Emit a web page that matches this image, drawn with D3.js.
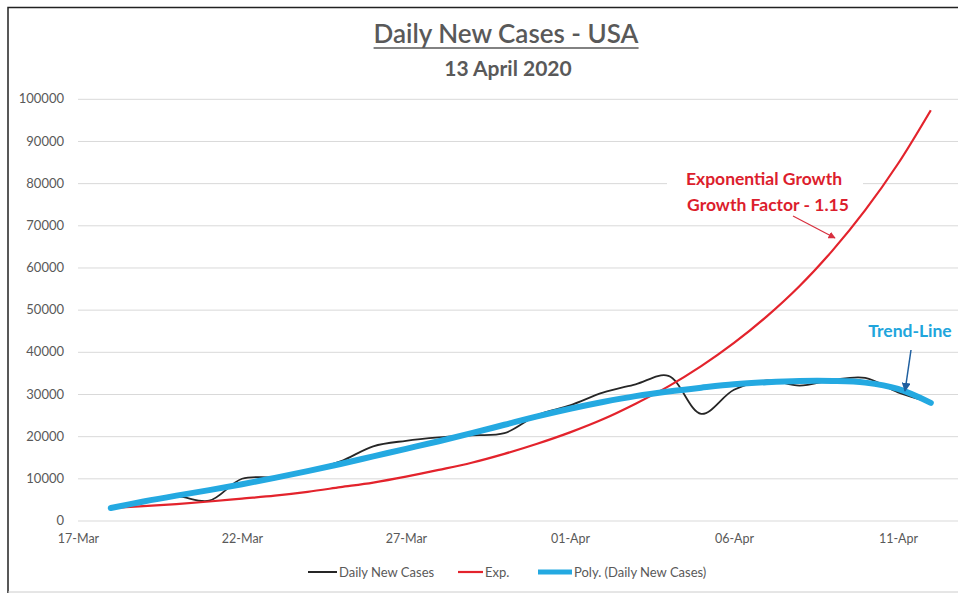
<!DOCTYPE html>
<html>
<head>
<meta charset="utf-8">
<script src="https://cdn.jsdelivr.net/npm/d3@7"></script>
<style>
  body { margin: 0; background: #fff; }
  text { font-family: Lato, "Open Sans", sans-serif; }
  .axis text { fill: #595959; }
  .y-axis text { font-size: 13px; }
  .x-axis text { font-size: 12.5px; }
  .axis .domain { display: none; }
  .y-axis line { stroke: #d9d9d9; }
</style>
</head>
<body>
<div class="chart"></div>
<script>

var dayLabels = [
  "2020-03-18", "2020-03-19", "2020-03-20", "2020-03-21", "2020-03-22", "2020-03-23",
  "2020-03-24", "2020-03-25", "2020-03-26", "2020-03-27", "2020-03-28", "2020-03-29",
  "2020-03-30", "2020-03-31", "2020-04-01", "2020-04-02", "2020-04-03", "2020-04-04",
  "2020-04-05", "2020-04-06", "2020-04-07", "2020-04-08", "2020-04-09", "2020-04-10",
  "2020-04-11", "2020-04-12"
];

var dailyCases = [2950, 4600, 5700, 4700, 9900, 10300, 11800, 14000, 17600, 18900, 19700, 20200,
  20700, 25000, 27300, 30300, 32300, 34300, 25300, 31000, 33200, 32000, 33300, 33800, 30400, 28000];

var expGrowth = [2950, 3400, 3900, 4500, 5200, 5900, 6800, 7900, 9000, 10400, 12000, 13700,
  15800, 18200, 20900, 24000, 27700, 31800, 36600, 42100, 48400, 55600, 64000, 73600, 84600, 97300];

var polyTrend = [2950, 4500, 5900, 7200, 8600, 10100, 11700, 13400, 15200, 17000, 18800, 20700,
  22700, 24700, 26500, 28100, 29500, 30600, 31500, 32300, 32800, 33100, 33100, 32700, 31200, 27900];

var tickDates = ["2020-03-17", "2020-03-22", "2020-03-27", "2020-04-01", "2020-04-06", "2020-04-11"];
var yTicks = [0, 10000, 20000, 30000, 40000, 50000, 60000, 70000, 80000, 90000, 100000];

var svgWidth = 958;
var svgHeight = 596;

var parseDay = d3.timeParse("%Y-%m-%d");

var svg = d3
  .select(".chart")
  .append("svg")
  .attr("width", svgWidth)
  .attr("height", svgHeight);

// frame
svg.append("path").attr("d", "M8,593V7.5H958").attr("fill", "none").attr("stroke", "#222").attr("stroke-width", 1.5);
svg.append("line").attr("x1", 8).attr("x2", 958).attr("y1", 592).attr("y2", 592).attr("stroke", "#ccc");

var xScale = d3.scaleTime()
  .domain([parseDay("2020-03-17"), parseDay("2020-04-13")])
  .range([78, 78 + 27 * 32.8]);

var yScale = d3.scaleLinear().domain([0, 100000]).range([520.5, 98.8]);

var leftAxis = d3.axisLeft(yScale)
  .tickValues(yTicks)
  .tickFormat(d3.format("d"))
  .tickSize(-(svgWidth - 78))
  .tickPadding(14);

svg.append("g")
  .attr("class", "axis y-axis")
  .attr("transform", "translate(78,0)")
  .call(leftAxis);

var bottomAxis = d3.axisBottom(xScale)
  .tickValues(tickDates.map(parseDay))
  .tickFormat(d3.timeFormat("%d-%b"))
  .tickSize(0)
  .tickPadding(14);

svg.append("g")
  .attr("class", "axis x-axis")
  .attr("transform", "translate(0,520.5)")
  .call(bottomAxis);

// title
var title = svg.append("text")
  .attr("x", 506)
  .attr("y", 43)
  .attr("text-anchor", "middle")
  .attr("fill", "#595959")
  .style("font-size", "26px")
  .style("font-weight", "600")
  .text("Daily New Cases - USA");

var tb = title.node().getBBox();
svg.append("line")
  .attr("x1", tb.x).attr("x2", tb.x + tb.width)
  .attr("y1", 48).attr("y2", 48)
  .attr("stroke", "#595959").attr("stroke-width", 1.5);

svg.append("text")
  .attr("x", 508)
  .attr("y", 76)
  .attr("text-anchor", "middle")
  .attr("fill", "#595959")
  .style("font-size", "21px")
  .style("font-weight", "bold")
  .text("13 April 2020");

// annotation box behind the lines
svg.append("rect")
  .attr("x", 667).attr("y", 163).attr("width", 196).attr("height", 56)
  .attr("fill", "#fff");

function toPoints(values) {
  return values.map(function(v, i) {
    return { date: parseDay(dayLabels[i]), value: v };
  });
}

var line = d3.line()
  .x(function(d) { return xScale(d.date); })
  .y(function(d) { return yScale(d.value); })
  .curve(d3.curveCatmullRom);

svg.append("path")
  .datum(toPoints(dailyCases))
  .attr("d", line)
  .attr("fill", "none")
  .attr("stroke", "#262626")
  .attr("stroke-width", 1.8);

svg.append("path")
  .datum(toPoints(expGrowth))
  .attr("d", line)
  .attr("fill", "none")
  .attr("stroke", "#e3232c")
  .attr("stroke-width", 2.2);

svg.append("path")
  .datum(toPoints(polyTrend))
  .attr("d", line)
  .attr("fill", "none")
  .attr("stroke", "#24a9e1")
  .attr("stroke-width", 6)
  .attr("stroke-linecap", "round");

// arrow markers
var defs = svg.append("defs");
function addMarker(id, color) {
  defs.append("marker")
    .attr("id", id)
    .attr("viewBox", "0 0 10 10")
    .attr("refX", 9).attr("refY", 5)
    .attr("markerWidth", 6).attr("markerHeight", 6)
    .attr("orient", "auto")
    .append("path")
    .attr("d", "M0,0L10,5L0,10z")
    .attr("fill", color);
}
addMarker("arrow-red", "#d8303f");
addMarker("arrow-blue", "#1f5f9f");

// annotations
svg.append("text")
  .attr("x", 764).attr("y", 185)
  .attr("text-anchor", "middle")
  .attr("fill", "#dc1e2d")
  .style("font-size", "17.5px").style("font-weight", "bold")
  .text("Exponential Growth");

svg.append("text")
  .attr("x", 768).attr("y", 211)
  .attr("text-anchor", "middle")
  .attr("fill", "#dc1e2d")
  .style("font-size", "17.5px").style("font-weight", "bold")
  .text("Growth Factor - 1.15");

svg.append("line")
  .attr("x1", 793).attr("y1", 216).attr("x2", 835).attr("y2", 238)
  .attr("stroke", "#d8303f").attr("stroke-width", 1.2)
  .attr("marker-end", "url(#arrow-red)");

svg.append("text")
  .attr("x", 910).attr("y", 337)
  .attr("text-anchor", "middle")
  .attr("fill", "#21a5dc")
  .style("font-size", "17.5px").style("font-weight", "bold")
  .text("Trend-Line");

svg.append("line")
  .attr("x1", 911).attr("y1", 350).attr("x2", 905).attr("y2", 391)
  .attr("stroke", "#1f5f9f").attr("stroke-width", 1.5)
  .attr("marker-end", "url(#arrow-blue)");

// legend
var legendItems = [
  { x1: 308, x2: 337, color: "#262626", width: 2, label: "Daily New Cases" },
  { x1: 458, x2: 483, color: "#e3232c", width: 2.2, label: "Exp." },
  { x1: 538, x2: 572, color: "#24a9e1", width: 5, label: "Poly. (Daily New Cases)" }
];

var legend = svg.append("g").attr("transform", "translate(0,572)");
legend.selectAll("line")
  .data(legendItems)
  .enter()
  .append("line")
  .attr("x1", function(d) { return d.x1; })
  .attr("x2", function(d) { return d.x2; })
  .attr("stroke", function(d) { return d.color; })
  .attr("stroke-width", function(d) { return d.width; });

legend.selectAll("text")
  .data(legendItems)
  .enter()
  .append("text")
  .attr("x", function(d) { return d.x2 + 2; })
  .attr("dy", "0.35em")
  .attr("fill", "#595959")
  .style("font-size", "13px")
  .text(function(d) { return d.label; });

</script>
</body>
</html>
